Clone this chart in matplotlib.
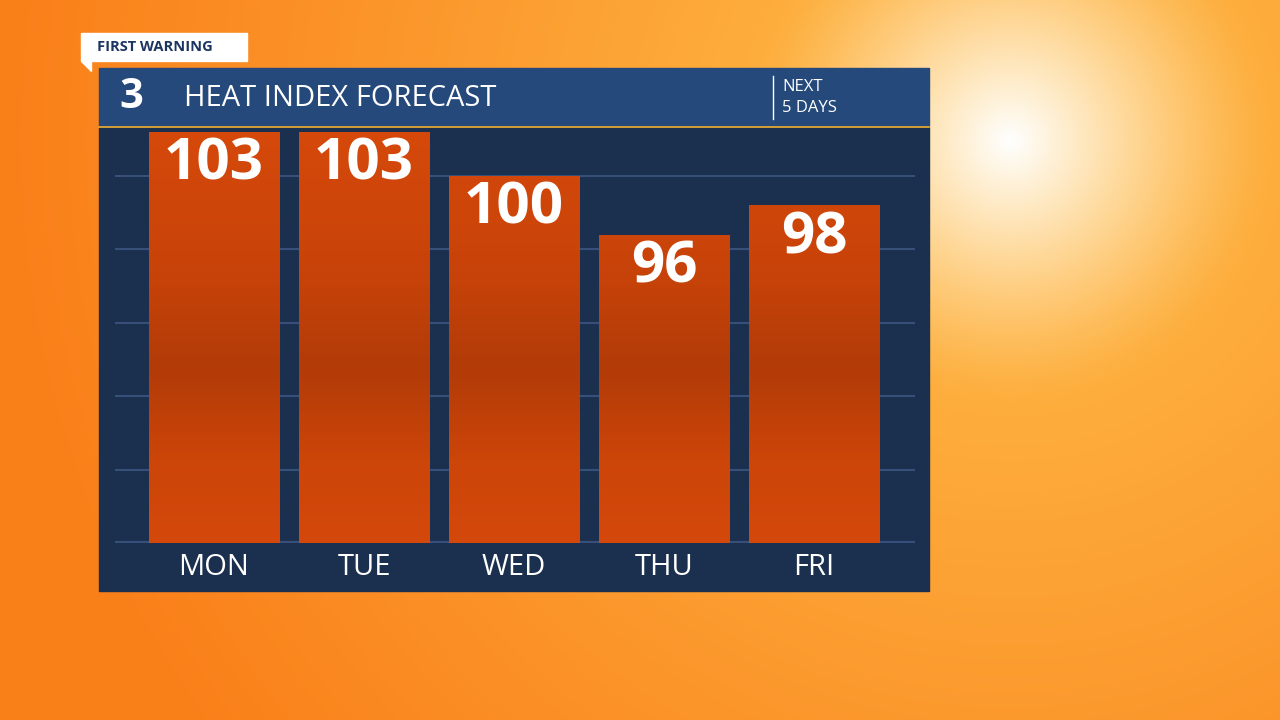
import numpy as np
import matplotlib
matplotlib.use("Agg")
import matplotlib.pyplot as plt
from matplotlib.patches import Rectangle, Polygon
from matplotlib.colors import LinearSegmentedColormap

days = ["MON", "TUE", "WED", "THU", "FRI"]
heat_index = [103, 103, 100, 96, 98]
title = "HEAT INDEX FORECAST"

W, H = 1280, 720
fig = plt.figure(figsize=(12.8, 7.2), dpi=100)

bg = fig.add_axes([0, 0, 1, 1]); bg.set_axis_off()
yy, xx = np.mgrid[0:H, 0:W]
d = np.hypot(xx - 1010, yy - 140)
c_sun = np.array([1.0, 1.0, 1.0]); c_mid = np.array([1.0, 0.76, 0.30]); c_out = np.array([0.98, 0.50, 0.10])
mix = (np.clip(d / 1000, 0, 1) ** 0.9)[..., None]
img = c_mid * (1 - mix) + c_out * mix
core = (np.clip(1 - d / 260, 0, 1) ** 1.3)[..., None]
img = img * (1 - core) + c_sun * core
bg.imshow(np.clip(img, 0, 1), extent=[0, W, H, 0], aspect="auto")
bg.set_xlim(0, W); bg.set_ylim(H, 0)

bg.add_patch(Rectangle((99, 127), 830, 464, color="#1b2f4f"))
bg.add_patch(Rectangle((99, 68), 830, 58, color="#24497a"))
bg.plot([99, 929], [126.5, 126.5], color="#f0b030", lw=1.2)
bg.add_patch(Rectangle((81, 33), 166, 28, color="white"))
bg.add_patch(Polygon([[81, 61], [91, 61], [91, 71]], color="white"))
bg.text(97, 47, "FIRST WARNING", color="#1b3560", fontsize=10.5, fontweight="bold", va="center", family="Open Sans")
bg.text(119, 98, "3", color="white", fontsize=30, fontweight="bold", va="center", family="Open Sans")
bg.text(184, 99, title, color="white", fontsize=21, va="center", family="Open Sans")
bg.plot([773, 773], [76, 119], color="white", lw=1)
bg.text(782, 87, "NEXT", color="white", fontsize=12, va="center", family="Open Sans")
bg.text(782, 108, "5 DAYS", color="white", fontsize=12, va="center", family="Open Sans")

ax = fig.add_axes([115 / W, 1 - 543 / H, 800 / W, 416 / H])
ax.set_axis_off()
ymin = 75.0; k = 14.68
ymax = ymin + 416 / k
xl = ((115 - 214) / 150, (915 - 214) / 150)
for g in range(80, 105, 5):
    ax.axhline(g, color="#36507a", lw=1.5, zorder=0)
ax.axhline(ymin, color="#36507a", lw=3, zorder=0)
cmap = LinearSegmentedColormap.from_list(
    "b", [(0, "#d5480b"), (0.2, "#cc4509"), (0.42, "#b23b08"), (0.65, "#c84309"), (1, "#d6490b")])
x = np.arange(len(days))
bw = 131 / 150
grad = np.linspace(0, 1, 256)[:, None]
for xi, v, dname in zip(x, heat_index, days):
    im = ax.imshow(grad, cmap=cmap, extent=[xi - bw / 2, xi + bw / 2, ymin, ymax], aspect="auto", zorder=1, origin="lower")
    im.set_clip_path(Rectangle((xi - bw / 2, ymin), bw, v - ymin, transform=ax.transData))
    ax.text(xi, v - 0.25, str(v), color="white", fontsize=42, fontweight="bold", ha="center", va="top", family="Open Sans", zorder=3)
    ax.text(xi, ymin - 1.65, dname, color="white", fontsize=21, ha="center", va="center", family="Open Sans", clip_on=False)
ax.set_xlim(*xl); ax.set_ylim(ymin, ymax)
fig.savefig("out.png", dpi=100)
